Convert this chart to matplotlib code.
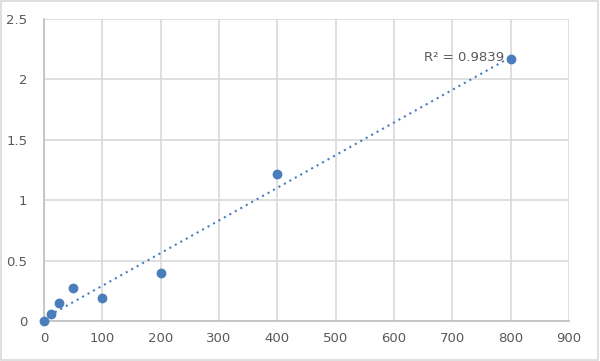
import matplotlib.pyplot as plt
import numpy as np
from matplotlib.patches import Rectangle

# standard curve points
conc = [0, 12.5, 25, 50, 100, 200, 400, 800]
od = [0.0, 0.06, 0.15, 0.27, 0.19, 0.40, 1.22, 2.17]
r2_label = "R² = 0.9839"

x_ticks = list(range(0, 1000, 100))
y_ticks = [0, 0.5, 1, 1.5, 2, 2.5]
y_tick_labels = ["0", "0.5", "1", "1.5", "2", "2.5"]

blue = "#4a7ebb"
grid_c = "#d9d9d9"
text_c = "#595959"

fig = plt.figure(figsize=(6, 3.61), dpi=100)
fig.patches.append(Rectangle((0.002, 0.003), 0.995, 0.993, transform=fig.transFigure,
                             fill=False, edgecolor="#d9d9d9", linewidth=1.2))
ax = fig.add_axes([0.0733, 0.111, 0.875, 0.836])

ax.scatter(conc, od, s=50, color=blue, zorder=3, linewidths=0, clip_on=False)

# linear trendline
slope, icpt = np.polyfit(conc, od, 1)
xs = np.array([min(conc), max(conc)])
ax.plot(xs, slope * xs + icpt, color=blue, linestyle=(0, (1, 2)), linewidth=1.5, zorder=2)
ax.text(788, 2.18, r2_label, ha="right", va="center", fontsize=9.5, color=text_c)

ax.set_xlim(0, 900)
ax.set_ylim(0, 2.5)
ax.set_xticks(x_ticks)
ax.set_yticks(y_ticks)
ax.set_yticklabels(y_tick_labels)
ax.grid(True, color=grid_c, linewidth=1.2)
ax.set_axisbelow(True)
for s in ["top", "right"]:
    ax.spines[s].set_visible(False)
for s in ["left", "bottom"]:
    ax.spines[s].set_color("#bfbfbf")
    ax.spines[s].set_linewidth(1.2)
ax.tick_params(length=0, labelsize=9.5, colors=text_c, pad=8)
ax.tick_params(axis="y", pad=12)

fig.savefig("out.png", dpi=100)
